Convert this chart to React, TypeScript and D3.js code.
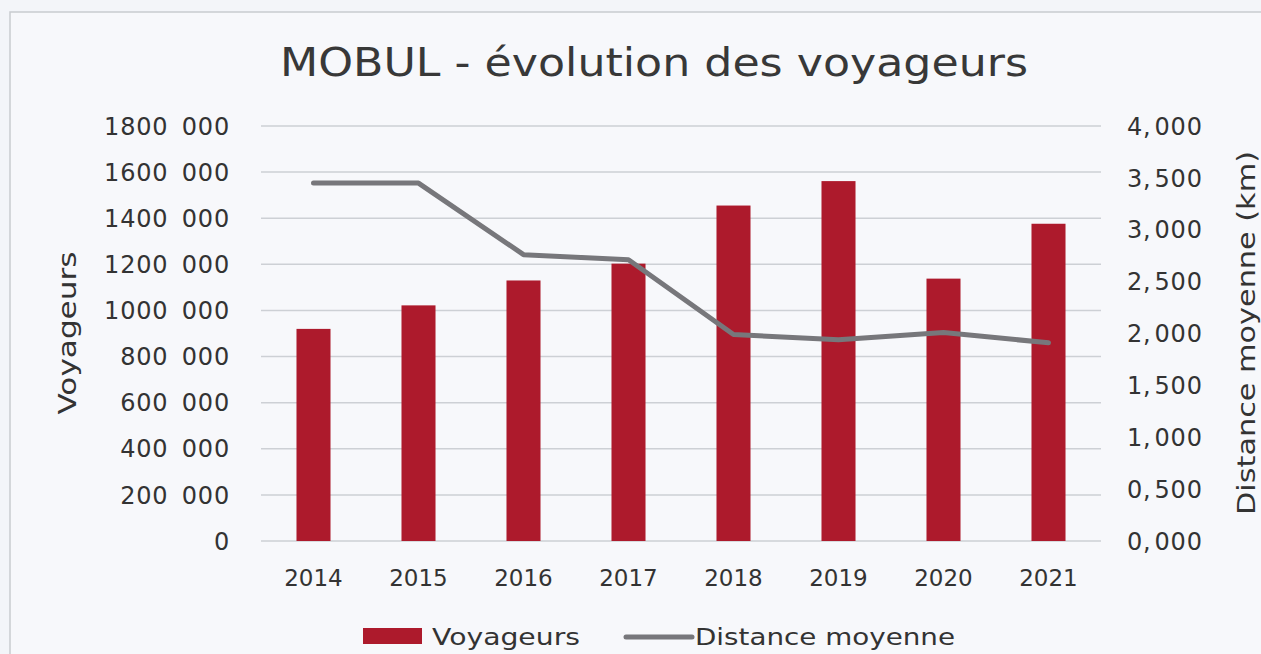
import React from "react";
import * as d3 from "d3";

const years = ["2014", "2015", "2016", "2017", "2018", "2019", "2020", "2021"];
const voyageurs = [920000, 1022000, 1130000, 1203000, 1455000, 1561000, 1138000, 1376000];
const distance = [3450, 3450, 2760, 2710, 1990, 1940, 2010, 1910];
const leftTicks = [0, 200000, 400000, 600000, 800000, 1000000, 1200000, 1400000, 1600000, 1800000];
const leftTickLabels = ["0", "200 000", "400 000", "600 000", "800 000", "1000 000", "1200 000", "1400 000", "1600 000", "1800 000"];
const rightTicks = [0, 500, 1000, 1500, 2000, 2500, 3000, 3500, 4000];
const rightTickLabels = ["0,000", "0,500", "1,000", "1,500", "2,000", "2,500", "3,000", "3,500", "4,000"];

const W = 1261;
const H = 654;
const FONT = "'DejaVu Sans', sans-serif";
const RED = "#ad1a2c";
const GRAY = "#77777b";
const TXT = "#333333";

export default function App() {
  const x = d3.scaleBand<string>().domain(years).range([261, 1101]).paddingInner(0.676).paddingOuter(0.338);
  const yL = d3.scaleLinear().domain([0, 1800000]).range([541, 126]);
  const yR = d3.scaleLinear().domain([0, 4000]).range([541, 126]);
  const line = d3
    .line<number>()
    .x((_, i) => (x(years[i]) as number) + x.bandwidth() / 2)
    .y((d) => yR(d));

  return (
    <div style={{ position: "fixed", left: 0, top: 0 }}>
      <svg width={W} height={H} style={{ display: "block", background: "#f3f5f9" }}>
        <rect x={10} y={12} width={W + 10} height={H + 10} fill="#f7f8fb" stroke="#c9cbd0" strokeWidth={1.5} />
        <text x={654} y={76} textAnchor="middle" fontFamily={FONT} fontSize={39} fill="#383838" textLength={748} lengthAdjust="spacingAndGlyphs">
          MOBUL - évolution des voyageurs
        </text>
        {leftTicks.map((t) => (
          <line key={"g" + t} x1={261} x2={1101} y1={yL(t)} y2={yL(t)} stroke="#cdd0d5" strokeWidth={1.5} />
        ))}
        {leftTicks.map((t, i) => {
          const parts = leftTickLabels[i].split(" ");
          return (
            <text key={"l" + t} x={230} y={yL(t)} dy="0.36em" textAnchor="end" fontFamily={FONT} fontSize={24} letterSpacing={0.8} fill={TXT}>
              {parts[0]}
              {parts.length > 1 ? <tspan dx={5}>{" " + parts[1]}</tspan> : null}
            </text>
          );
        })}
        {rightTicks.map((t, i) => {
          const parts = rightTickLabels[i].split(",");
          return (
            <text key={"r" + t} x={1127} y={yR(t)} dy="0.36em" textAnchor="start" fontFamily={FONT} fontSize={24} letterSpacing={0.8} fill={TXT}>
              {parts[0] + ","}
              <tspan dx={3}>{parts[1]}</tspan>
            </text>
          );
        })}
        {years.map((yr, i) => (
          <rect key={yr} x={x(yr)} y={yL(voyageurs[i])} width={x.bandwidth()} height={yL(0) - yL(voyageurs[i])} fill={RED} />
        ))}
        <path d={line(distance) || ""} fill="none" stroke={GRAY} strokeWidth={5} strokeLinejoin="round" strokeLinecap="round" />
        {years.map((yr) => (
          <text key={"x" + yr} x={(x(yr) as number) + x.bandwidth() / 2} y={578} dy="0.36em" textAnchor="middle" fontFamily={FONT} fontSize={23} fill={TXT}>
            {yr}
          </text>
        ))}
        <text transform="translate(67,333) rotate(-90)" textAnchor="middle" dy="0.36em" fontFamily={FONT} fontSize={25} fill={TXT} textLength={163} lengthAdjust="spacingAndGlyphs">
          Voyageurs
        </text>
        <text transform="translate(1246,333) rotate(-90)" textAnchor="middle" dy="0.36em" fontFamily={FONT} fontSize={25} fill={TXT} textLength={364} lengthAdjust="spacingAndGlyphs">
          Distance moyenne (km)
        </text>
        <rect x={363} y={628} width={59} height={16} fill={RED} />
        <text x={432} y={637} dy="0.36em" fontFamily={FONT} fontSize={23} fill={TXT} textLength={148} lengthAdjust="spacingAndGlyphs">
          Voyageurs
        </text>
        <line x1={626} x2={692} y1={637} y2={637} stroke={GRAY} strokeWidth={5} strokeLinecap="round" />
        <text x={695} y={637} dy="0.36em" fontFamily={FONT} fontSize={23} fill={TXT} textLength={260} lengthAdjust="spacingAndGlyphs">
          Distance moyenne
        </text>
      </svg>
    </div>
  );
}
